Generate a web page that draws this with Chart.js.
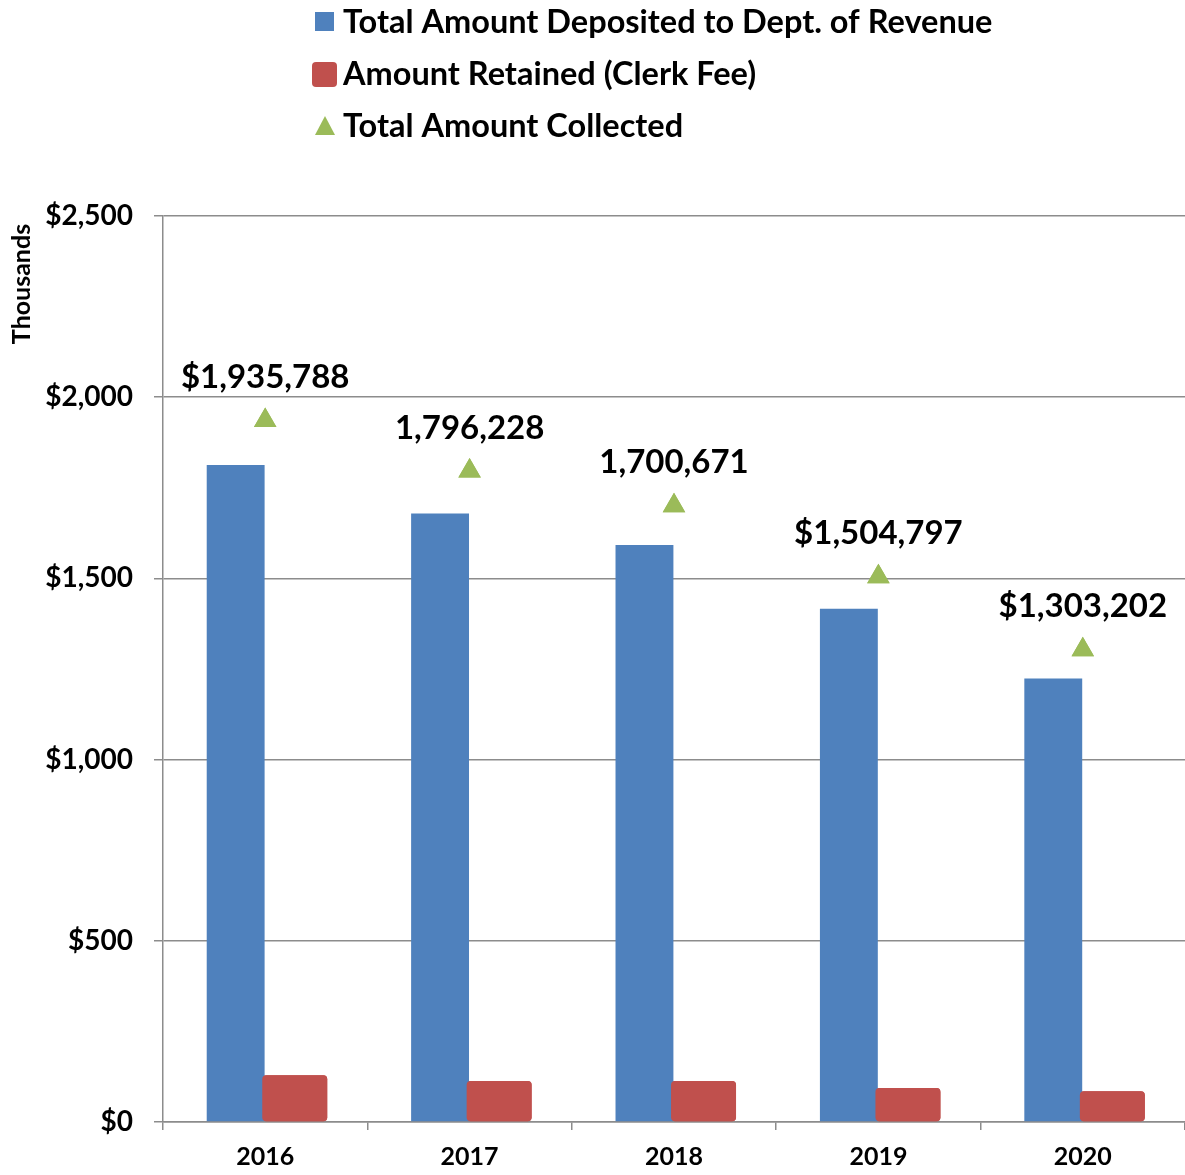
<!DOCTYPE html>
<html>
<head>
<meta charset="utf-8">
<script src="https://cdn.jsdelivr.net/npm/chart.js@4/dist/chart.umd.min.js"></script>
<style>
  html, body { margin: 0; padding: 0; background: #ffffff; }
  #wrap { width: 1185px; height: 1175px; }
</style>
</head>
<body>
<div id="wrap"><canvas id="c" width="1185" height="1175"></canvas></div>
<script>
const categories = ["2016", "2017", "2018", "2019", "2020"];
const depositedValues = [1813, 1679, 1592, 1416, 1224];
const retainedValues = [129, 113, 113, 94, 85];
const collectedValues = [1935.788, 1796.228, 1700.671, 1504.797, 1303.202];
const collectedLabels = ["$1,935,788", "1,796,228", "1,700,671", "$1,504,797", "$1,303,202"];
const yTickValues = [0, 500, 1000, 1500, 2000, 2500];
const seriesNames = ["Total Amount Deposited to Dept. of Revenue", "Amount Retained (Clerk Fee)", "Total Amount Collected"];

const FONT = "Lato, 'Liberation Sans', sans-serif";
const BLUE = "#4F81BD", RED = "#C0504D", GREEN = "#9BBB59", GRID = "#8C8C8C";

function fmtDollar(v) {
  return "$" + v.toLocaleString("en-US");
}

const overlayPlugin = {
  id: "overlay",
  afterDatasetsDraw(chart) {
    const ctx = chart.ctx;
    // redraw the retained bars so they sit on top of the deposited bars
    const redMeta = chart.getDatasetMeta(1);
    ctx.save();
    redMeta.controller.draw();
    ctx.restore();
    // redraw triangles on top
    const meta = chart.getDatasetMeta(2);
    ctx.save();
    meta.controller.draw();
    ctx.restore();
    // data labels above triangles
    ctx.save();
    ctx.fillStyle = "#000";
    ctx.font = "bold 33px " + FONT;
    ctx.textAlign = "center";
    ctx.textBaseline = "middle";
    meta.data.forEach((pt, i) => {
      ctx.fillText(collectedLabels[i], pt.x, pt.y - 43);
    });
    ctx.restore();
  },
  afterDraw(chart) {
    const ctx = chart.ctx;
    ctx.save();
    // axis title
    ctx.translate(22, 284);
    ctx.rotate(-Math.PI / 2);
    ctx.font = "bold 25px " + FONT;
    ctx.fillStyle = "#000";
    ctx.textAlign = "center";
    ctx.textBaseline = "middle";
    ctx.fillText("Thousands", 0, 0);
    ctx.restore();

    // legend
    ctx.save();
    ctx.font = "bold 32.5px " + FONT;
    ctx.fillStyle = "#000";
    ctx.textBaseline = "middle";
    ctx.textAlign = "left";
    const rows = [22, 74, 126];
    const ds = chart.data.datasets;
    ctx.fillStyle = ds[0].backgroundColor;
    ctx.fillRect(315, rows[0] - 10, 19, 19);
    ctx.fillStyle = ds[1].backgroundColor;
    ctx.beginPath();
    ctx.roundRect(312, rows[1] - 12, 25, 25, 4);
    ctx.fill();
    ctx.fillStyle = ds[2].backgroundColor;
    ctx.beginPath();
    ctx.moveTo(325, rows[2] - 10);
    ctx.lineTo(335, rows[2] + 9);
    ctx.lineTo(315, rows[2] + 9);
    ctx.closePath();
    ctx.fill();
    ctx.fillStyle = "#000";
    ds.forEach((d, i) => ctx.fillText(d.label, 343, rows[i] + 1));
    ctx.restore();
  }
};

new Chart(document.getElementById("c"), {
  type: "bar",
  data: {
    labels: categories,
    datasets: [
      {
        label: seriesNames[0],
        data: depositedValues,
        backgroundColor: BLUE,
        categoryPercentage: 0.578,
        barPercentage: 0.98
      },
      {
        label: seriesNames[1],
        data: retainedValues,
        backgroundColor: RED,
        categoryPercentage: 0.578,
        barPercentage: 1.1,
        borderRadius: 4,
        borderSkipped: false
      },
      {
        type: "line",
        label: seriesNames[2],
        data: collectedValues,
        showLine: false,
        backgroundColor: GREEN,
        borderColor: GREEN,
        pointStyle: "triangle",
        pointRadius: 13,
        pointHoverRadius: 13,
        borderWidth: 0
      }
    ]
  },
  options: {
    responsive: false,
    animation: false,
    devicePixelRatio: 1,
    layout: { autoPadding: false, padding: { top: 216, left: 0, right: 0, bottom: 0 } },
    plugins: {
      legend: { display: false },
      tooltip: { enabled: false },
      title: { display: false }
    },
    scales: {
      x: {
        offset: true,
        afterFit(scale) {
          scale.height = 53;
          scale.paddingRight = 0;
          scale.paddingLeft = 0;
        },
        border: { display: true, color: GRID, width: 1.5 },
        grid: {
          offset: true,
          drawOnChartArea: false,
          drawTicks: true,
          tickLength: 8,
          color: GRID,
          lineWidth: 1.5
        },
        ticks: {
          color: "#000",
          font: { family: FONT, size: 25, weight: "bold" },
          padding: 12,
          maxRotation: 0
        }
      },
      y: {
        min: 0,
        max: 2500,
        afterFit(scale) {
          scale.width = 163;
          scale.paddingTop = 0;
          scale.paddingBottom = 0;
        },
        afterBuildTicks(scale) {
          scale.ticks = yTickValues.map(v => ({ value: v }));
        },
        border: { display: true, color: GRID, width: 1.5 },
        grid: {
          color: GRID,
          lineWidth: 1.5,
          drawTicks: true,
          tickLength: 9
        },
        ticks: {
          color: "#000",
          font: { family: FONT, size: 28, weight: "bold" },
          padding: 21,
          callback: (v) => fmtDollar(v)
        }
      }
    }
  },
  plugins: [overlayPlugin]
});
</script>
</body>
</html>
